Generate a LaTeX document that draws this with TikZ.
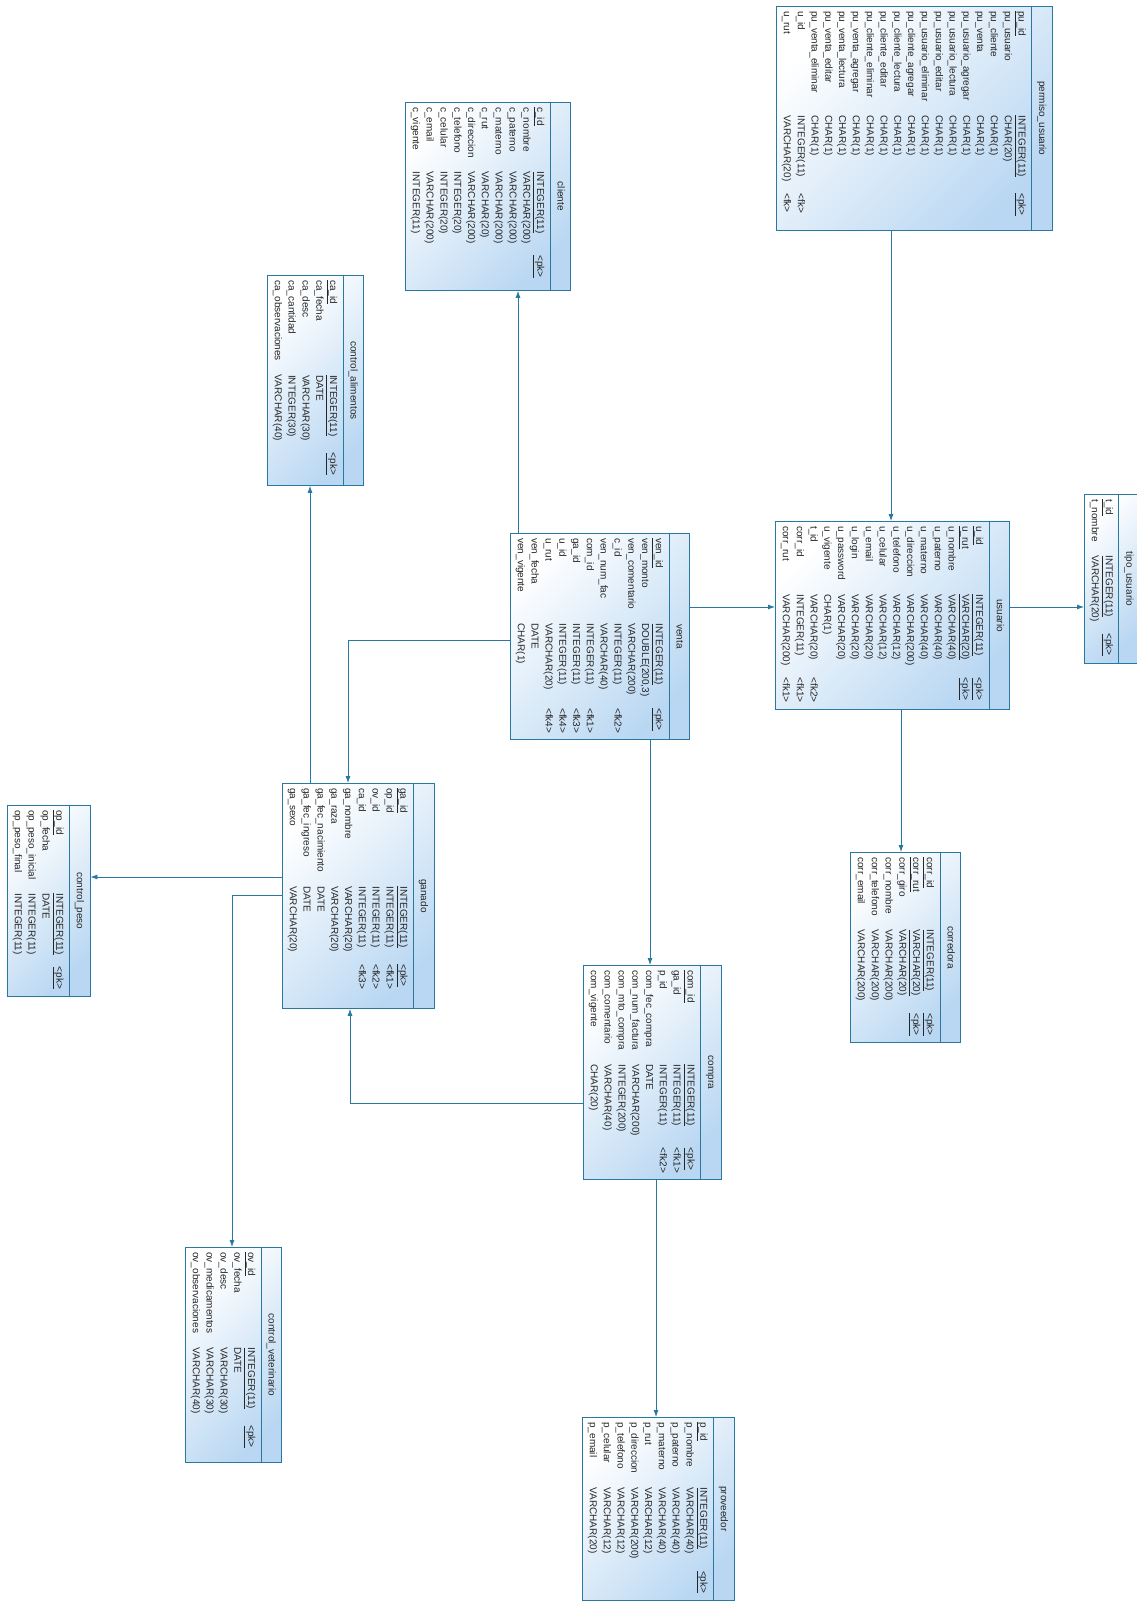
\documentclass[tikz,border=0pt]{standalone}
\usepackage{fontspec}
\setmainfont{Liberation Sans}
\usetikzlibrary{shapes.multipart,arrows.meta}
\definecolor{erline}{RGB}{40,120,160}
\definecolor{erfill}{RGB}{185,215,242}
\newcommand{\pkrow}[3]{\underline{#1} & \underline{#2} & \underline{#3}}
\newcommand{\cols}{@{}l@{\hspace{14pt}}l@{\hspace{12pt}}l@{}}
\begin{document}
\begin{tikzpicture}[x=1pt, y=-1pt,
    tbl/.style={rectangle split, rectangle split parts=2, rectangle split part align={center,left},
      rotate=-90, anchor=south west, draw=erline, line width=0.8pt,
      top color=white, bottom color=erfill, shading angle=45,
      inner xsep=5pt, inner ysep=3pt, text=black!85, font=\fontsize{10}{13.8}\selectfont},
    fk/.style={draw=erline, line width=0.8pt, -{Latex[length=7pt,width=5pt]}}]
    \useasboundingbox (0,0) rectangle (1136,1605);

    %tables
    \node[tbl, minimum width=224pt] (permiso) at (776,6) {\strut permiso\_usuario
      \nodepart{two}\begin{tabular}{\cols}
      \pkrow{pu\_id}{INTEGER(11)}{<pk>}\\
      pu\_usuario & CHAR(20) & \\
      pu\_cliente & CHAR(1) & \\
      pu\_venta & CHAR(1) & \\
      pu\_usuario\_agregar & CHAR(1) & \\
      pu\_usuario\_lectura & CHAR(1) & \\
      pu\_usuario\_editar & CHAR(1) & \\
      pu\_usuario\_eliminar & CHAR(1) & \\
      pu\_cliente\_agregar & CHAR(1) & \\
      pu\_cliente\_lectura & CHAR(1) & \\
      pu\_cliente\_editar & CHAR(1) & \\
      pu\_cliente\_eliminar & CHAR(1) & \\
      pu\_venta\_agregar & CHAR(1) & \\
      pu\_venta\_lectura & CHAR(1) & \\
      pu\_venta\_editar & CHAR(1) & \\
      pu\_venta\_eliminar & CHAR(1) & \\
      u\_id & INTEGER(11) & <fk>\\
      u\_rut & VARCHAR(20) & <fk>
      \end{tabular}};
    \node[tbl, minimum width=188pt] (cliente) at (405,102) {\strut cliente
      \nodepart{two}\begin{tabular}{\cols}
      \pkrow{c\_id}{INTEGER(11)}{<pk>}\\
      c\_nombre & VARCHAR(200) & \\
      c\_paterno & VARCHAR(200) & \\
      c\_materno & VARCHAR(200) & \\
      c\_rut & VARCHAR(20) & \\
      c\_direccion & VARCHAR(200) & \\
      c\_telefono & INTEGER(20) & \\
      c\_celular & INTEGER(20) & \\
      c\_email & VARCHAR(200) & \\
      c\_vigente & INTEGER(11) &
      \end{tabular}};
    \node[tbl, minimum width=210pt] (alimentos) at (267,275) {\strut control\_alimentos
      \nodepart{two}\begin{tabular}{\cols}
      \pkrow{ca\_id}{INTEGER(11)}{<pk>}\\
      ca\_fecha & DATE & \\
      ca\_desc & VARCHAR(30) & \\
      ca\_cantidad & INTEGER(30) & \\
      ca\_observaciones & VARCHAR(40) &
      \end{tabular}};
    \node[tbl, minimum width=169pt] (tipo) at (1084,494) {\strut tipo\_usuario
      \nodepart{two}\begin{tabular}{\cols}
      \pkrow{t\_id}{INTEGER(11)}{<pk>}\\
      t\_nombre & VARCHAR(20) &
      \end{tabular}};
    \node[tbl, minimum width=188pt] (usuario) at (775,521) {\strut usuario
      \nodepart{two}\begin{tabular}{\cols}
      \pkrow{u\_id}{INTEGER(11)}{<pk>}\\
      \pkrow{u\_rut}{VARCHAR(20)}{<pk>}\\
      u\_nombre & VARCHAR(40) & \\
      u\_paterno & VARCHAR(40) & \\
      u\_materno & VARCHAR(40) & \\
      u\_direccion & VARCHAR(200) & \\
      u\_telefono & VARCHAR(12) & \\
      u\_celular & VARCHAR(12) & \\
      u\_email & VARCHAR(20) & \\
      u\_login & VARCHAR(20) & \\
      u\_password & VARCHAR(20) & \\
      u\_vigente & CHAR(1) & \\
      t\_id & VARCHAR(20) & <fk2>\\
      corr\_id & INTEGER(11) & <fk1>\\
      corr\_rut & VARCHAR(200) & <fk1>
      \end{tabular}};
    \node[tbl, minimum width=206pt] (venta) at (510,533) {\strut venta
      \nodepart{two}\begin{tabular}{\cols}
      \pkrow{ven\_id}{INTEGER(11)}{<pk>}\\
      ven\_monto & DOUBLE(200,3) & \\
      ven\_comentario & VARCHAR(200) & \\
      c\_id & INTEGER(11) & <fk2>\\
      ven\_num\_fac & VARCHAR(40) & \\
      com\_id & INTEGER(11) & <fk1>\\
      ga\_id & INTEGER(11) & <fk3>\\
      u\_id & INTEGER(11) & <fk4>\\
      u\_rut & VARCHAR(20) & <fk4>\\
      ven\_fecha & DATE & \\
      ven\_vigente & CHAR(1) &
      \end{tabular}};
    \node[tbl, minimum width=190pt] (corredora) at (850,852) {\strut corredora
      \nodepart{two}\begin{tabular}{\cols}
      \pkrow{corr\_id}{INTEGER(11)}{<pk>}\\
      \pkrow{corr\_rut}{VARCHAR(20)}{<pk>}\\
      corr\_giro & VARCHAR(20) & \\
      corr\_nombre & VARCHAR(200) & \\
      corr\_telefono & VARCHAR(200) & \\
      corr\_email & VARCHAR(200) &
      \end{tabular}};
    \node[tbl, minimum width=225pt] (ganado) at (282,783) {\strut ganado
      \nodepart{two}\begin{tabular}{\cols}
      \pkrow{ga\_id}{INTEGER(11)}{<pk>}\\
      op\_id & INTEGER(11) & <fk1>\\
      ov\_id & INTEGER(11) & <fk2>\\
      ca\_id & INTEGER(11) & <fk3>\\
      ga\_nombre & VARCHAR(20) & \\
      ga\_raza & VARCHAR(20) & \\
      ga\_fec\_nacimiento & DATE & \\
      ga\_fec\_ingreso & DATE & \\
      ga\_sexo & VARCHAR(20) &
      \end{tabular}};
    \node[tbl, minimum width=191pt] (peso) at (7,805) {\strut control\_peso
      \nodepart{two}\begin{tabular}{\cols}
      \pkrow{op\_id}{INTEGER(11)}{<pk>}\\
      op\_fecha & DATE & \\
      op\_peso\_inicial & INTEGER(11) & \\
      op\_peso\_final & INTEGER(11) &
      \end{tabular}};
    \node[tbl, minimum width=215pt] (veterinario) at (185,1247) {\strut control\_veterinario
      \nodepart{two}\begin{tabular}{\cols}
      \pkrow{ov\_id}{INTEGER(11)}{<pk>}\\
      ov\_fecha & DATE & \\
      ov\_desc & VARCHAR(30) & \\
      ov\_medicamentos & VARCHAR(30) & \\
      ov\_observaciones & VARCHAR(40) &
      \end{tabular}};
    \node[tbl, minimum width=214pt] (compra) at (583,965) {\strut compra
      \nodepart{two}\begin{tabular}{\cols}
      \pkrow{com\_id}{INTEGER(11)}{<pk>}\\
      ga\_id & INTEGER(11) & <fk1>\\
      p\_id & INTEGER(11) & <fk2>\\
      com\_fec\_compra & DATE & \\
      com\_num\_factura & VARCHAR(200) & \\
      com\_mto\_compra & INTEGER(200) & \\
      com\_comentario & VARCHAR(40) & \\
      com\_vigente & CHAR(20) &
      \end{tabular}};
    \node[tbl, minimum width=183pt] (proveedor) at (582,1417) {\strut proveedor
      \nodepart{two}\begin{tabular}{\cols}
      \pkrow{p\_id}{INTEGER(11)}{<pk>}\\
      p\_nombre & VARCHAR(40) & \\
      p\_paterno & VARCHAR(40) & \\
      p\_materno & VARCHAR(40) & \\
      p\_rut & VARCHAR(12) & \\
      p\_direccion & VARCHAR(200) & \\
      p\_telefono & VARCHAR(12) & \\
      p\_celular & VARCHAR(12) & \\
      p\_email & VARCHAR(20) &
      \end{tabular}};

    %references
    \draw[fk] (permiso.east -| 891,0) -- (usuario.west -| 891,0);
    \draw[fk] (usuario.north |- 0,607) -- (tipo.south |- 0,607);
    \draw[fk] (usuario.east -| 901,0) -- (corredora.west -| 901,0);
    \draw[fk] (venta.north |- 0,607) -- (usuario.south |- 0,607);
    \draw[fk] (venta.west -| 518,0) -- (cliente.east -| 518,0);
    \draw[fk] (venta.east -| 650,0) -- (compra.west -| 650,0);
    \draw[fk] (venta.south |- 0,640) -| (ganado.west -| 348,0);
    \draw[fk] (ganado.west -| 310,0) -- (alimentos.east -| 310,0);
    \draw[fk] (ganado.south |- 0,877) -- (peso.north |- 0,877);
    \draw[fk] (ganado.south |- 0,895) -| (veterinario.west -| 232,0);
    \draw[fk] (compra.south |- 0,1103) -| (ganado.east -| 350,0);
    \draw[fk] (compra.east -| 656,0) -- (proveedor.west -| 656,0);
\end{tikzpicture}
\end{document}
